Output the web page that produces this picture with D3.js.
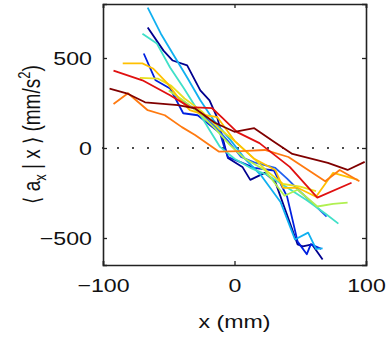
<!DOCTYPE html>
<html lang="en">
<head>
<meta charset="UTF-8">
<title>Conditional acceleration</title>
<script src="https://d3js.org/d3.v7.min.js"></script>
<style>
  body { margin: 0; background: white; }
  svg { display: block; font-family: 'Liberation Sans', Arial, sans-serif; }
</style>
</head>
<body>
<svg id="chart" width="392" height="354"></svg>
<script>
// curves: [x (mm), <a_x|x> (mm/s^2)]
var navy = [[-66,670],[-54,541],[-47,486],[-36,459],[-26,320],[-19,265],[-13,166],[-5,-55],[6,-105],[12,-177],[23,-138],[31,-188],[48,-536],[52,-547],[59,-536],[67,-619]];
var blue = [[-69,525],[-60,376],[-49,331],[-39,193],[-28,182],[-11,83],[-8,10],[-5,-50],[5,-80],[15,-110],[30,-125],[40,-270],[48,-520],[55,-590],[58,-535],[66,-560]];
var midBlue = [[-45,290],[-35,240],[-25,190],[-15,120],[-5,40],[5,-50],[15,-80],[31,-110],[40,-170],[50,-243],[60,-310],[70,-381]];
var sky = [[-66,780],[-56,635],[-47,525],[-36,392],[-26,265],[-16,155],[-3,44],[8,-60],[20,-150],[35,-300],[46,-508],[56,-470],[62,-560],[67,-558]];
var teal = [[-70,635],[-59,580],[-49,447],[-39,337],[-28,210],[-19,100],[-11,6],[0,-60],[12,-110],[25,-150],[40,-220],[55,-290],[70,-370],[79,-420]];
var green = [[-50,320],[-40,270],[-28,200],[-15,110],[-4,20],[8,-60],[23,-122],[38,-265],[48,-232],[63,-325],[75,-310],[86,-304]];
var yellow = [[-72,390],[-58,385],[-48,345],[-38,275],[-25,205],[-12,110],[0,40],[12,-40],[25,-130],[37,-200],[50,-215],[62,-240]];
var amber = [[-85,470],[-70,470],[-62,442],[-51,359],[-43,282],[-34,210],[-22,182],[-13,171],[0,40],[15,-60],[31,-122],[37,-221],[48,-221],[62,-271],[75,-138],[94,-177]];
var orange = [[-92,245],[-81,304],[-66,210],[-53,182],[-40,116],[-30,72],[-12,-20],[5,-17],[23,-11],[41,-50],[69,-185],[80,-122],[95,-185]];
var red = [[-92,430],[-70,376],[-49,293],[-34,227],[-17,221],[-9,166],[2,88],[19,27],[42,-105],[63,-276],[89,-193]];
var darkRed = [[-95,330],[-82,304],[-68,254],[-43,238],[-30,220],[-15,140],[0,90],[15,110],[30,35],[44,-33],[71,-83],[86,-122],[99,-77]];

var series = [navy, blue, midBlue, sky, teal, green, yellow, amber, orange, red, darkRed];
var colors = ["#00008f", "#0020e0", "#2060f0", "#10b0f0", "#40e0c8", "#b0f050", "#e8e020", "#ffc000", "#ff7a10", "#e01010", "#800000"];

var xTicks = [-100, 0, 100];
var yTicks = [-500, 0, 500];

var width = 392, height = 354;
var margin = {top: 4, right: 26, bottom: 89, left: 103};
var stretch = 1.22; // the original figure is a bit wider than tall in its lettering
var svg = d3.select("#chart");

var x = d3.scaleLinear().domain([-100, 100]).range([margin.left, width - margin.right]);
var y = d3.scaleLinear().domain([-650, 800]).range([height - margin.bottom, margin.top]);

// zero line, dotted
svg.append("line")
  .attr("x1", x(-100)).attr("x2", x(100))
  .attr("y1", y(0)).attr("y2", y(0))
  .attr("stroke", "#111").attr("stroke-width", 2)
  .attr("stroke-linecap", "round")
  .attr("stroke-dasharray", "0,15");

var line = d3.line().x(d => x(d[0])).y(d => y(d[1]));

svg.append("g").selectAll("path")
  .data(series)
  .join("path")
  .attr("d", line)
  .attr("fill", "none")
  .attr("stroke", (d, i) => colors[i])
  .attr("stroke-width", 1.8)
  .attr("stroke-linejoin", "round");

var fmt = d => String(d).replace("-", "\u2212");

// box + inward ticks on all sides
var axisColor = "#222";
var gx = svg.append("g").attr("transform", `translate(0,${y.range()[0]})`)
  .call(d3.axisBottom(x).tickValues(xTicks).tickSize(-4).tickFormat(fmt).tickPadding(14));
svg.append("g").attr("transform", `translate(0,${y.range()[1]})`)
  .call(d3.axisTop(x).tickValues(xTicks).tickSize(-4).tickFormat(""));
var gy = svg.append("g").attr("transform", `translate(${x.range()[0]},0)`)
  .call(d3.axisLeft(y).tickValues(yTicks).tickSize(-4).tickFormat(fmt).tickPadding(10));
svg.append("g").attr("transform", `translate(${x.range()[1]},0)`)
  .call(d3.axisRight(y).tickValues(yTicks).tickSize(-4).tickFormat(""));

svg.selectAll(".domain").attr("stroke", axisColor).attr("stroke-width", 1.6);
svg.selectAll(".tick line").attr("stroke", axisColor).attr("stroke-width", 1.3);
svg.selectAll(".tick text").attr("font-size", 19).attr("fill", "#111");
gx.selectAll(".tick text").attr("transform", `scale(${stretch},1)`);
gy.selectAll(".tick text")
  .attr("x", -11 / stretch)
  .attr("transform", `scale(${stretch},1)`);

// axis titles
svg.append("text")
  .attr("transform", `translate(${x(0)},328) scale(${stretch},1)`)
  .attr("text-anchor", "middle")
  .attr("font-size", 19).attr("fill", "#111")
  .text("x (mm)");

var yl = svg.append("text")
  .attr("transform", `translate(40,${(y.range()[0] + y.range()[1]) / 2}) scale(${stretch},1) rotate(-90)`)
  .attr("text-anchor", "middle")
  .attr("font-size", 19).attr("fill", "#111");
yl.append("tspan").text("\u27e8 a");
yl.append("tspan").attr("font-size", 13).attr("dy", 5).text("x");
yl.append("tspan").attr("dy", -5).text(" | x \u27e9 (mm/s");
yl.append("tspan").attr("font-size", 13).attr("dy", -8).text("2");
yl.append("tspan").attr("dy", 8).text(")");
</script>
</body>
</html>
